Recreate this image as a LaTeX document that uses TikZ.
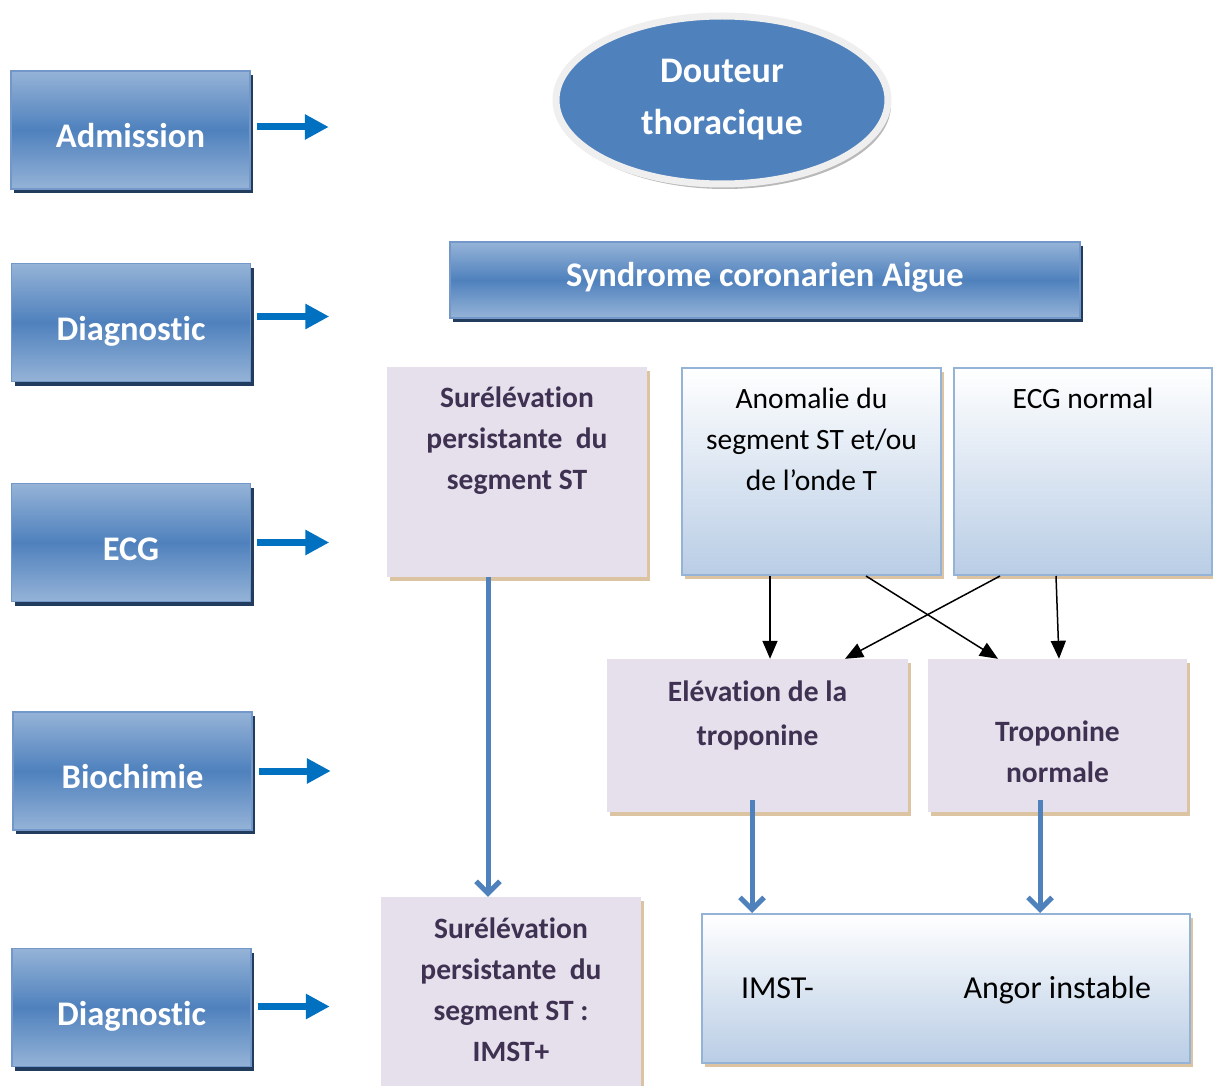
\documentclass[tikz,border=0pt]{standalone}
\usepackage{fontspec}
\setmainfont{Carlito}[Ligatures=NoCommon]
\usepackage{tikz}
\usepackage{xcolor}
\usetikzlibrary{shapes.geometric}
\usetikzlibrary{shadows}
\usetikzlibrary{arrows.meta}
\usetikzlibrary{positioning}
\definecolor{accblue}{HTML}{4F81BD}
\definecolor{lightblue}{HTML}{95B3D7}
\definecolor{paleblue}{HTML}{B9CDE5}
\definecolor{stageedge}{HTML}{7297C8}
\definecolor{navyshade}{HTML}{223C5E}
\definecolor{lavender}{HTML}{E5E0EC}
\definecolor{plum}{HTML}{3F3151}
\definecolor{sand}{HTML}{DCC3A2}
\definecolor{rimgray}{HTML}{EFEFEF}
\definecolor{flowblue}{HTML}{0070C0}
\tikzset{stagebox/.style={draw=stageedge, line width=1.5pt,
   top color=lightblue, bottom color=lightblue, middle color=accblue,
   inner sep=0pt, minimum width=239pt, minimum height=118pt,
   text=white, font=\fontsize{34.5}{40}\selectfont\bfseries,
   text height=35pt, text depth=0pt,
   general shadow={fill=navyshade, shadow xshift=3pt, shadow yshift=-4pt}},
 lavbox/.style={fill=lavender, inner sep=0pt,
   general shadow={fill=sand, shadow xshift=3pt, shadow yshift=-4pt}},
 gradbox/.style={draw=lightblue, line width=2pt, top color=white, bottom color=paleblue,
   inner sep=0pt,
   general shadow={fill=sand, shadow xshift=3pt, shadow yshift=-4pt}},
 lavtxt/.style={inner sep=0pt, align=center, text=plum,
   font=\fontsize{29.5}{41}\selectfont\bfseries},
 plaintxt/.style={inner sep=0pt, align=center, text=black,
   font=\fontsize{29.5}{41}\selectfont},
 flowarrow/.style={draw=flowblue, line width=7pt, -{Triangle[length=24pt,width=24pt]}},
 bluelink/.style={draw=accblue, line width=5pt, -{Straight Barb[length=12pt,width=24pt]}},
 blacklink/.style={draw=black, line width=1.5pt, -{Triangle[length=18pt,width=15pt]}},
 }

\begin{document}
\begin{tikzpicture}[x=1pt,y=-1pt]
        \useasboundingbox (0,0) rectangle (1213,1086);
        \node[stagebox] (adm) at (130.5,130) {Admission};
        \node[stagebox] (diag) at (131,322.5) {Diagnostic};
        \node[stagebox] (ecg) at (131,542.5) {ECG};
        \node[stagebox] (bio) at (132.5,771) {Biochimie};
        \node[stagebox] (diagfin) at (131.5,1007.5) {Diagnostic};
        \foreach \n/\dy in {adm/3,diag/6,ecg/0,bio/0,diagfin/1}
            \draw[flowarrow] ([xshift=6pt,yshift=\dy pt]\n.east) -- ([xshift=78pt,yshift=\dy pt]\n.east);

        \node[ellipse, minimum width=332pt, minimum height=168pt, inner sep=0pt,
            fill=accblue, draw=rimgray, line width=7pt, align=center, text=white,
            font=\fontsize{36}{52}\selectfont\bfseries,
            general shadow={fill=gray!55, shadow xshift=3pt, shadow yshift=-5pt}]
            (doubt) at (722,100) {Douteur\\thoracique};
        \node[stagebox, minimum width=630pt, minimum height=76pt,
            text height=24pt, text depth=12pt] (sca) at (765,280)
            {Syndrome coronarien Aigue};

        \node[lavbox, minimum width=260pt, minimum height=210pt] (sur) at (517,472) {};
        \node[lavtxt, below=20pt of sur.north] (surtxt)
            {Surélévation\\persistante~~du\\segment ST};
        \node[gradbox, minimum width=259pt, minimum height=207pt] (anom) at (811.5,471.5) {};
        \node[plaintxt, below=21pt of anom.north] (anomtxt)
            {Anomalie du\\segment ST et/ou\\de l’onde T};
        \node[gradbox, minimum width=258pt, minimum height=207pt] (ecgn) at (1083,471.5) {};
        \node[plaintxt, below=21pt of ecgn.north] (ecgntxt) {ECG normal};

        \node[lavbox, minimum width=301pt, minimum height=153pt] (elev) at (757.5,735.5) {};
        \node[lavtxt, below=22pt of elev.north, font=\fontsize{29.5}{44}\selectfont\bfseries]
            (elevtxt) {Elévation de la\\troponine};
        \node[lavbox, minimum width=259pt, minimum height=153pt] (tropn) at (1057.5,735.5) {};
        \node[lavtxt, below=62pt of tropn.north] (tropntxt) {Troponine\\normale};

        \node[lavbox, minimum width=260pt, minimum height=193pt] (imstp) at (511,993.5) {};
        \node[lavtxt, below=21pt of imstp.north] (imstptxt)
            {Surélévation\\persistante~~du\\segment ST :\\IMST+};
        \node[gradbox, minimum width=488pt, minimum height=149pt,
            font=\fontsize{32}{36}\selectfont, text height=20pt, text depth=0pt]
            (final) at (946,988.5) {\makebox[410pt][l]{IMST-\hfill Angor instable}};

        \draw[blacklink] ([xshift=-41.5pt]anom.south) -- ([xshift=12.5pt]elev.north);
        \draw[blacklink] ([xshift=54.5pt]anom.south) -- ([xshift=-59.5pt]tropn.north);
        \draw[blacklink] ([xshift=-83pt]ecgn.south) -- ([xshift=87.5pt]elev.north);
        \draw[blacklink] ([xshift=-27pt]ecgn.south) -- ([xshift=1.5pt]tropn.north);

        \draw[bluelink] ([xshift=-29pt]sur.south) -- ([xshift=-23pt]imstp.north);
        \draw[bluelink] ([xshift=-5.5pt,yshift=12pt]elev.south) -- ([xshift=-194pt]final.north);
        \draw[bluelink] ([xshift=-17.5pt,yshift=12pt]tropn.south) -- ([xshift=94pt]final.north);
    \end{tikzpicture}
\end{document}
